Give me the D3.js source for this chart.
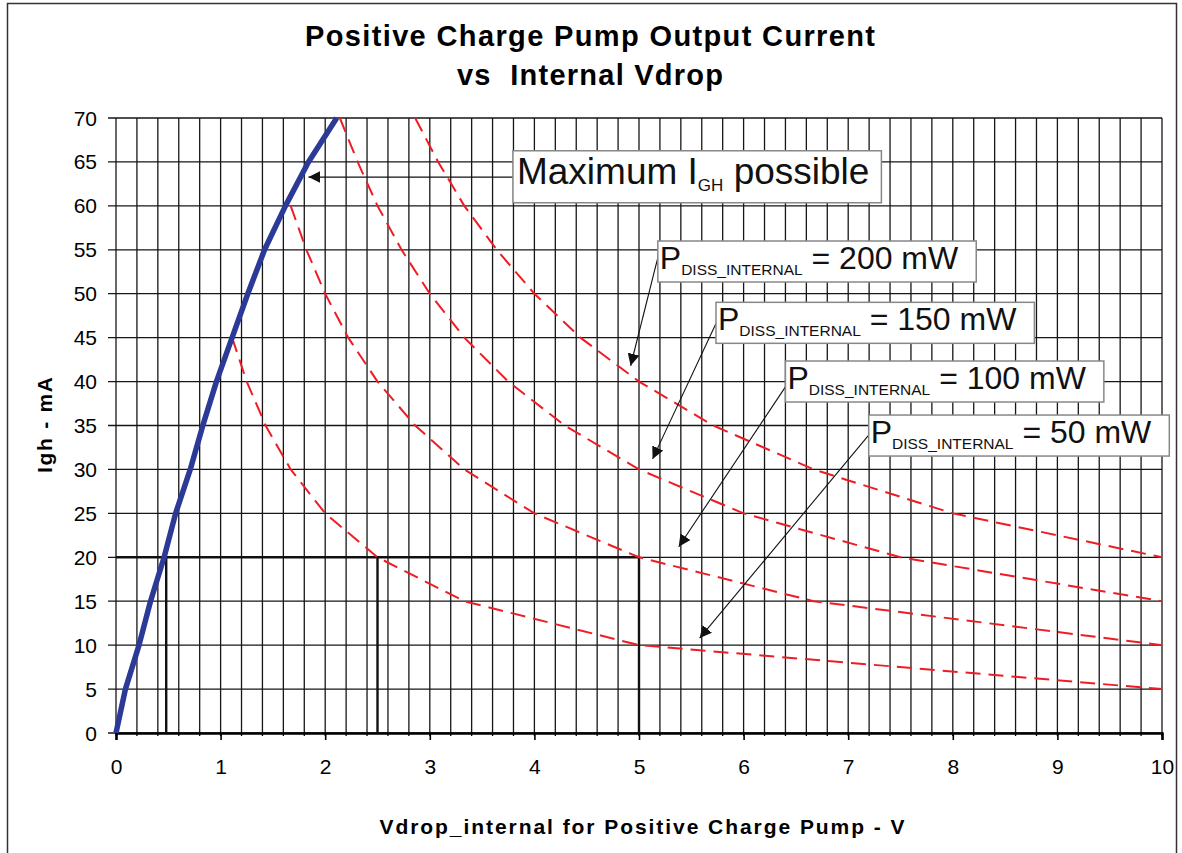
<!DOCTYPE html>
<html>
<head>
<meta charset="utf-8">
<script src="https://cdn.jsdelivr.net/npm/d3@7"></script>
<style>
  html, body { margin: 0; padding: 0; background: #fff; }
  svg { display: block; font-family: "Liberation Sans", Arial, sans-serif; }
</style>
</head>
<body>
<div id="chart"></div>
<script>
// Axis ticks
const xTickLabels = [0, 1, 2, 3, 4, 5, 6, 7, 8, 9, 10];
const yTickLabels = [0, 5, 10, 15, 20, 25, 30, 35, 40, 45, 50, 55, 60, 65, 70];

// Maximum IGH possible (blue line): Vdrop (V) vs Igh (mA)
const maxVdrop = [0, 0.09, 0.22, 0.33, 0.46, 0.57, 0.71, 0.83, 0.96, 1.11, 1.26, 1.42, 1.62, 1.84, 2.11];
const maxIgh   = [0, 5, 10, 15, 20, 25, 30, 35, 40, 45, 50, 55, 60, 65, 70];

// Constant internal dissipation curves (red dashed)
const p200Vdrop = [2.86, 3.08, 3.33, 3.64, 4.0, 4.44, 5.0, 5.71, 6.67, 8.0, 10];
const p200Igh   = [70, 65, 60, 55, 50, 45, 40, 35, 30, 25, 20];
const p150Vdrop = [2.14, 2.31, 2.5, 2.73, 3.0, 3.33, 3.75, 4.29, 5.0, 6.0, 7.5, 10];
const p150Igh   = [70, 65, 60, 55, 50, 45, 40, 35, 30, 25, 20, 15];
const p100Vdrop = [1.67, 1.82, 2.0, 2.22, 2.5, 2.86, 3.33, 4.0, 5.0, 6.67, 10];
const p100Igh   = [60, 55, 50, 45, 40, 35, 30, 25, 20, 15, 10];
const p50Vdrop  = [1.11, 1.25, 1.43, 1.67, 2.0, 2.5, 3.33, 5.0, 10];
const p50Igh    = [45, 40, 35, 30, 25, 20, 15, 10, 5];

// Reference lines at Igh = 20 mA
const refIgh = 20;
const refVdrop = [0.48, 2.5, 5];

const curveNames = ['200', '150', '100', '50'];
const curves = [
  { name: '200', v: p200Vdrop, i: p200Igh },
  { name: '150', v: p150Vdrop, i: p150Igh },
  { name: '100', v: p100Vdrop, i: p100Igh },
  { name: '50',  v: p50Vdrop,  i: p50Igh }
];

const width = 1182, height = 853;

const svg = d3.select('#chart').append('svg')
  .attr('width', width)
  .attr('height', height);

// arrow head
svg.append('defs').append('marker')
  .attr('id', 'arrow')
  .attr('viewBox', '0 0 12 12')
  .attr('refX', 12)
  .attr('refY', 6)
  .attr('markerUnits', 'userSpaceOnUse')
  .attr('markerWidth', 12)
  .attr('markerHeight', 12)
  .attr('orient', 'auto')
  .append('path')
  .attr('d', 'M0,0 L12,6 L0,12 Z')
  .attr('fill', '#111');

// outer frame
svg.append('path')
  .attr('d', `M7.5,${height + 2} V3.5 H1176.5 V${height + 2}`)
  .attr('fill', 'none')
  .attr('stroke', '#333')
  .attr('stroke-width', 1.5);

const x = d3.scaleLinear().domain([0, 10]).range([116, 1162]);
const y = d3.scaleLinear().domain([0, 70]).range([733, 118]);

// Title
svg.append('text')
  .attr('x', 590).attr('y', 46)
  .attr('text-anchor', 'middle')
  .attr('font-size', 29).attr('font-weight', 'bold')
  .attr('textLength', 570).attr('lengthAdjust', 'spacing')
  .text('Positive Charge Pump Output Current');
svg.append('text')
  .attr('x', 590).attr('y', 85)
  .attr('text-anchor', 'middle')
  .attr('font-size', 29).attr('font-weight', 'bold')
  .attr('xml:space', 'preserve')
  .attr('textLength', 266).attr('lengthAdjust', 'spacing')
  .text('vs  Internal Vdrop');

const g = svg.append('g');

// grid
g.selectAll('.vgrid')
  .data(x.ticks(50))
  .enter().append('line')
  .attr('class', 'vgrid')
  .attr('x1', d => x(d)).attr('x2', d => x(d))
  .attr('y1', y(70)).attr('y2', y(0))
  .attr('stroke', '#161616').attr('stroke-width', 1.3);

g.selectAll('.hgrid')
  .data(yTickLabels)
  .enter().append('line')
  .attr('class', 'hgrid')
  .attr('x1', x(0) - 8).attr('x2', x(10))
  .attr('y1', d => y(d)).attr('y2', d => y(d))
  .attr('stroke', '#161616').attr('stroke-width', 1.3);

// bottom axis
const xAxis = d3.axisBottom(x)
  .tickValues(xTickLabels)
  .tickSize(7)
  .tickPadding(19)
  .tickFormat(d3.format('d'));
const xg = g.append('g')
  .attr('transform', `translate(0, ${y(0)})`)
  .call(xAxis);
xg.select('.domain').attr('stroke', '#000').attr('stroke-width', 2.5);
xg.selectAll('.tick line').attr('stroke', '#000').attr('stroke-width', 1.6);
xg.selectAll('.tick text')
  .attr('font-size', 21).attr('fill', '#000')
  .attr('font-family', '"Liberation Sans", Arial, sans-serif');

// minor ticks
g.selectAll('.minor')
  .data(x.ticks(50))
  .enter().append('line')
  .attr('x1', d => x(d)).attr('x2', d => x(d))
  .attr('y1', y(0)).attr('y2', y(0) + 3)
  .attr('stroke', '#000').attr('stroke-width', 1.3);

// y labels
g.selectAll('.ylabel')
  .data(yTickLabels)
  .enter().append('text')
  .attr('x', 97)
  .attr('y', d => y(d) + 7.5)
  .attr('text-anchor', 'end')
  .attr('font-size', 21)
  .attr('fill', '#000')
  .text(d => d);

// reference lines
g.append('line')
  .attr('x1', x(0)).attr('x2', x(refVdrop[refVdrop.length - 1]))
  .attr('y1', y(refIgh)).attr('y2', y(refIgh))
  .attr('stroke', '#111').attr('stroke-width', 2.4);
g.selectAll('.ref')
  .data(refVdrop)
  .enter().append('line')
  .attr('x1', d => x(d)).attr('x2', d => x(d))
  .attr('y1', y(refIgh)).attr('y2', y(0))
  .attr('stroke', '#111').attr('stroke-width', 2.4);

// red dashed curves
const line = d3.line().x(d => x(d[0])).y(d => y(d[1]));
g.selectAll('.pdiss')
  .data(curves)
  .enter().append('path')
  .attr('class', 'pdiss')
  .attr('d', c => line(c.v.map((v, k) => [v, c.i[k]])))
  .attr('fill', 'none')
  .attr('stroke', '#ee1d25')
  .attr('stroke-width', 2)
  .attr('stroke-dasharray', '15,8');

// blue max line
g.append('path')
  .attr('d', line(maxVdrop.map((v, k) => [v, maxIgh[k]])))
  .attr('fill', 'none')
  .attr('stroke', '#2b3a97')
  .attr('stroke-width', 5.5)
  .attr('stroke-linejoin', 'round');

// annotations (layout in data units)
const maxNote = { left: 3.795, top: 66.27, tipV: 1.84, tipI: 63.28 };
const pNotes = [
  { left: 5.18, top: 56.0,  tipV: 4.92, tipI: 41.8, fromI: 54.1 },
  { left: 5.736, top: 49.02, tipV: 5.13, tipI: 31.2, fromI: 46.6 },
  { left: 6.40, top: 42.34, tipV: 5.38, tipI: 21.2, fromI: 39.4 },
  { left: 7.196, top: 36.19, tipV: 5.58, tipI: 10.8, fromI: 33.9 }
];

const ann = svg.append('g');

// Maximum IGH box
ann.append('line')
  .attr('x1', x(maxNote.left)).attr('y1', y(maxNote.tipI))
  .attr('x2', x(maxNote.tipV)).attr('y2', y(maxNote.tipI))
  .attr('stroke', '#111').attr('stroke-width', 1.2)
  .attr('marker-end', 'url(#arrow)');
const mb = ann.append('rect')
  .attr('x', x(maxNote.left)).attr('y', y(maxNote.top))
  .attr('height', 52)
  .attr('fill', '#fff').attr('stroke', '#888').attr('stroke-width', 1.5);
const mt = ann.append('text')
  .attr('x', x(maxNote.left) + 4).attr('y', y(maxNote.top) + 33)
  .attr('font-size', 37).attr('fill', '#111');
mt.append('tspan').text('Maximum I');
mt.append('tspan').attr('font-size', 17).attr('dy', 7).text('GH');
mt.append('tspan').attr('dy', -7).text(' possible');
mb.attr('width', mt.node().getComputedTextLength() + 16);

// PDISS boxes
pNotes.forEach((n, k) => {
  ann.append('line')
    .attr('x1', x(n.left)).attr('y1', y(n.fromI))
    .attr('x2', x(n.tipV)).attr('y2', y(n.tipI))
    .attr('stroke', '#111').attr('stroke-width', 1.1)
    .attr('marker-end', 'url(#arrow)');
  const r = ann.append('rect')
    .attr('x', x(n.left)).attr('y', y(n.top))
    .attr('height', 41)
    .attr('fill', '#fff').attr('stroke', '#888').attr('stroke-width', 1.5);
  const t = ann.append('text')
    .attr('x', x(n.left) + 2).attr('y', y(n.top) + 28)
    .attr('font-size', 32).attr('fill', '#111');
  t.append('tspan').text('P');
  t.append('tspan').attr('font-size', 15.5).attr('dy', 6).text('DISS_INTERNAL');
  t.append('tspan').attr('dy', -6).text(' = ' + curveNames[k] + ' mW');
  r.attr('width', t.node().getComputedTextLength() + 20);
});

// axis titles
svg.append('text')
  .attr('x', 642).attr('y', 834)
  .attr('text-anchor', 'middle')
  .attr('font-size', 21).attr('font-weight', 'bold')
  .attr('textLength', 525).attr('lengthAdjust', 'spacing')
  .text('Vdrop_internal for Positive Charge Pump - V');

svg.append('text')
  .attr('transform', 'translate(52, 425) rotate(-90)')
  .attr('text-anchor', 'middle')
  .attr('font-size', 21).attr('font-weight', 'bold')
  .attr('textLength', 96).attr('lengthAdjust', 'spacing')
  .text('Igh - mA');
</script>
</body>
</html>
